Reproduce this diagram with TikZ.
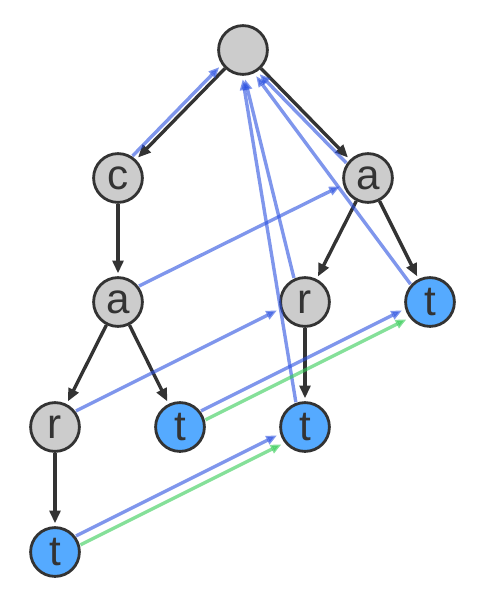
\documentclass[tikz,border=0pt]{standalone}
\usepackage{fontspec}
\setmainfont{Liberation Sans}
\usepackage{tikz}
\usetikzlibrary{calc,arrows.meta}
\definecolor{trieink}{HTML}{333333}
\definecolor{triegray}{HTML}{CCCCCC}
\definecolor{trieblue}{HTML}{55AAFF}
\definecolor{failblue}{HTML}{2A50E0}
\definecolor{outgreen}{HTML}{33CC55}
\tikzset{
  state/.style={circle,draw=trieink,line width=2pt,fill=triegray,minimum size=1.22cm,
    inner sep=0pt,text=trieink,font=\fontsize{30}{30}\selectfont},
  final/.style={state,fill=trieblue},
  child/.style={draw=trieink,line width=2.4pt,-{Triangle[length=0.32cm,width=0.27cm]},shorten >=2pt},
  fail/.style={draw=failblue,draw opacity=0.6,fill opacity=0.6,line width=2.4pt,
    -{Triangle[length=0.27cm,width=0.22cm]},shorten <=0.65cm,shorten >=0.72cm},
  output/.style={fail,draw=outgreen}
}

\begin{document}
\begin{tikzpicture}[x=0.025cm,y=-0.025cm]
    \useasboundingbox (0,0) rectangle (501,606);
    % trie states
    \node[state] (root) at (243,50) {};
    \node[state] (nc) at (118,178) {c};
    \node[state] (na) at (368,178) {a};
    \node[state] (nca) at (118,302) {a};
    \node[state] (nar) at (305,302) {r};
    \node[final] (nat) at (430,302) {t};
    \node[state] (ncar) at (55,427) {r};
    \node[final] (ncat) at (180,427) {t};
    \node[final] (nart) at (305,427) {t};
    \node[final] (ncart) at (55,552) {t};
    % goto edges
    \foreach \from/\to in {root/nc,root/na,nc/nca,nca/ncar,nca/ncat,ncar/ncart,na/nar,na/nat,nar/nart}
      \draw[child] (\from) -- (\to);
    % failure links
    \foreach \from/\to in {nc/root,na/root,nar/root,nat/root,nart/root,nca/na,ncar/nar,ncat/nat,ncart/nart}
      \draw[fail] ($(\from)!0.125cm!90:(\to)$) -- ($(\to)!0.125cm!-90:(\from)$);
    % output links
    \foreach \from/\to in {ncat/nat,ncart/nart}
      \draw[output] ($(\from)!0.125cm!-90:(\to)$) -- ($(\to)!0.125cm!90:(\from)$);
  \end{tikzpicture}
\end{document}
